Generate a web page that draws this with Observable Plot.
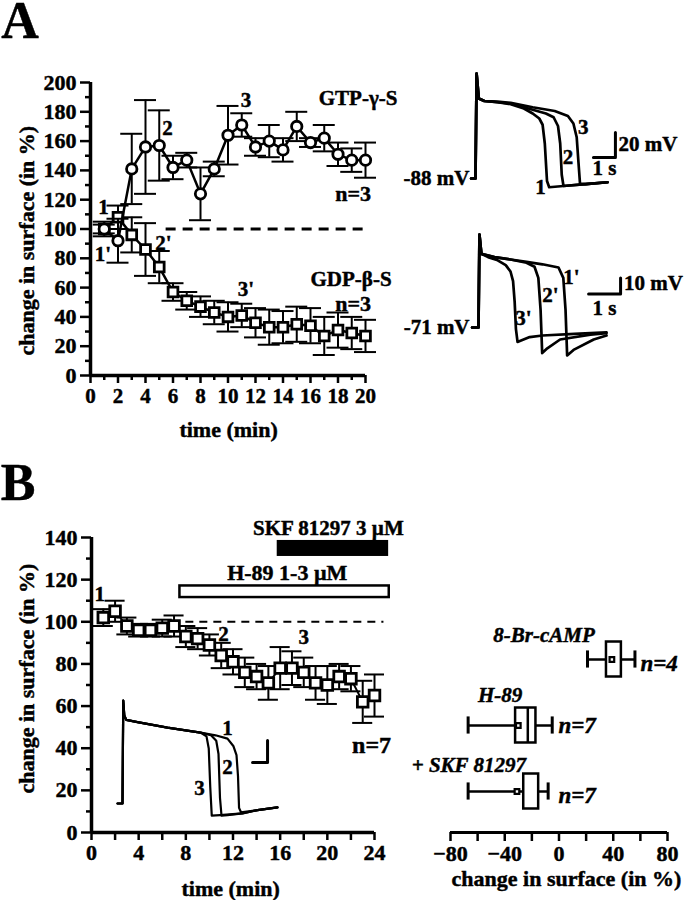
<!DOCTYPE html>
<html><head><meta charset="utf-8">
<script src="https://cdn.jsdelivr.net/npm/d3@7"></script>
<script src="https://cdn.jsdelivr.net/npm/@observablehq/plot@0.6"></script>
<style>
body{margin:0;background:#fff;}
#fig{position:relative;width:685px;height:900px;overflow:hidden;background:#fff;}
#fig svg{position:absolute;left:0;top:0;}
#fig svg text{stroke:#000;stroke-width:0.45px;}
</style></head><body><div id="fig"></div>
<script>
// ---------- Panel A: time course (min) ----------
const minutesA = [1,2,3,4,5,6,7,8,9,10,11,12,13,14,15,16,17,18,19,20];
const gtpMean = [100,92,141,156,157,142,147,124,141,164,171,156,160,154,170,159,162,151,147,147];
const gtpSem  = [5,15,24,32,24,8,5,18,5,20,8,6,11,8,10,3,9,8,8,12];
const gdpMean = [100,108,96,86,74,57,51,47,43,40,41,36,33,33,35,34,27,31,29,27];
const gdpSem  = [3,8,12,18,11,6,6,7,8,10,8,10,12,11,12,12,13,12,11,11];
const ticksAX = [0,2,4,6,8,10,12,14,16,18,20];
const ticksAY = [0,20,40,60,80,100,120,140,160,180,200];

// action potentials, [time (s), membrane potential (mV)]
const apGTP1 = [[-0.2,-88],[0,-88],[0.05,-4],[0.15,-24],[0.4,-26],[1,-27],[1.6,-28.5],[2.2,-32],[2.6,-36],[2.9,-40],[3.05,-45],[3.15,-60],[3.25,-90],[3.35,-95],[4,-94],[5,-92.5],[6,-91]];
const apGTP2 = [[-0.2,-88],[0,-88],[0.05,-4],[0.15,-24],[0.4,-26],[1,-27],[1.6,-28],[2.6,-33],[3.2,-36],[3.55,-39],[3.75,-46],[3.85,-60],[3.92,-85],[4,-94],[5,-92.5],[6,-91]];
const apGTP3 = [[-0.2,-88],[0,-88],[0.05,-4],[0.15,-24],[0.4,-26],[1,-26.5],[1.6,-27.5],[2.6,-31],[3.6,-34],[4.2,-38],[4.45,-44],[4.6,-55],[4.68,-75],[4.75,-92],[5,-92.5],[6,-91]];
const apGDP3 = [[-0.2,-71],[0,-71],[0.03,-13],[0.09,-25],[0.3,-27],[0.6,-29],[0.85,-32],[1.0,-36],[1.08,-42],[1.13,-55],[1.17,-72],[1.22,-80],[1.35,-79],[1.6,-77],[2,-76],[3,-75],[4,-74]];
const apGDP2 = [[-0.2,-71],[0,-71],[0.03,-13],[0.09,-25],[0.5,-27],[1,-28.5],[1.5,-30.5],[1.75,-33],[1.87,-40],[1.94,-60],[1.99,-87],[2.15,-84],[2.55,-78.5],[3.5,-75.5],[4,-74.5]];
const apGDP1 = [[-0.2,-71],[0,-71],[0.03,-13],[0.09,-25],[0.5,-27],[1,-28.5],[1.5,-30],[2,-31.5],[2.5,-33.5],[2.65,-40],[2.72,-60],[2.77,-88.5],[2.97,-85],[3.6,-78.5],[4,-76]];
const restGTP = -88, restGDP = -71;

// ---------- Panel B ----------
const minutesB = [1,2,3,4,5,6,7,8,9,10,11,12,13,14,15,16,17,18,19,20,21,22,23,24];
const h89Mean = [102,105,98,96,96,97,98,93,92,89,84,81,76,74,71,78,78,76,71,70,74,73,62,65];
const h89Sem  = [4,5,4,3,3,4,5,5,5,5,6,6,7,6,8,10,8,7,8,9,6,6,10,10];
const ticksBX = [0,4,8,12,16,20,24];
const ticksBY = [0,20,40,60,80,100,120,140];
const h89Period = [7.5, 25.25];
const skfPeriod = [15.75, 25.2];
const apH1 = [[-0.33,-85],[0,-85],[0.05,8.6],[0.12,-5],[0.25,-9],[1,-11],[3,-16],[5.2,-20.5],[6.2,-23],[7,-26],[7.4,-33],[7.6,-41],[7.7,-60],[7.77,-89],[7.9,-93],[9,-91],[10.33,-88.5]];
const apH2 = [[-0.33,-85],[0,-85],[0.05,8.6],[0.12,-5],[0.25,-9],[1,-11],[3,-16],[5.2,-20.5],[5.9,-23],[6.25,-28],[6.4,-40],[6.5,-80],[6.6,-96],[7,-95.5],[8,-94],[9,-91],[10.33,-88.5]];
const apH3 = [[-0.33,-85],[0,-85],[0.05,8.6],[0.12,-5],[0.25,-9],[1,-11],[3,-16],[5.2,-20.5],[5.6,-24],[5.75,-35],[5.85,-70],[5.95,-96],[6.5,-95.5],[8,-94],[9,-91],[10.33,-88.5]];

// box plot summary (change in surface, %)
const boxGroups = ["8-Br-cAMP","H-89","+ SKF 81297"];
const boxN      = [4,7,7];
const boxMin    = [21,-67,-67];
const boxQ1     = [35,-32,-26];
const boxMedian = [null,-23,null];
const boxQ3     = [46,-17,-15];
const boxMax    = [56,-5,-8];
const boxMean   = [39,-30,-31];
const ticksBoxMajor = [-80,-40,0,40,80];
const ticksBoxMinor = [-60,-20,20,60];

// ---------- drawing ----------
const W = 685, H = 900;
const FONT = "'Liberation Serif','Times New Roman',serif";
const frame = (l,r,t,b) => ({width:W,height:H,marginLeft:l,marginRight:r,marginTop:t,marginBottom:b,
  style:{fontFamily:FONT,fontSize:"22px",fontWeight:"bold",background:"transparent",color:"#000",overflow:"visible",maxWidth:"none"}});
const fig = document.getElementById("fig");
const add = p => { fig.appendChild(p); };
const T = d => d;

function errMarks(rows, cap, sw){
  return [
    Plot.ruleX(rows,{x:"t",y1:d=>d.v-d.e,y2:d=>d.v+d.e,strokeWidth:sw}),
    Plot.ruleY(rows,{y:d=>d.v+d.e,x1:d=>d.t-cap,x2:d=>d.t+cap,strokeWidth:sw}),
    Plot.ruleY(rows,{y:d=>d.v-d.e,x1:d=>d.t-cap,x2:d=>d.t+cap,strokeWidth:sw})
  ];
}

// Panel A chart
const rowsGTP = minutesA.map((t,i)=>({t, v:gtpMean[i], e:gtpSem[i]}));
const rowsGDP = minutesA.map((t,i)=>({t, v:gdpMean[i], e:gdpSem[i]}));
add(Plot.plot({...frame(90,320,82,525),
  x:{domain:[0,20],label:null}, y:{domain:[0,200],label:null},
  marks:[
    Plot.text(["A"],{x:-6.5,y:241.5,text:T,textAnchor:"start",fontSize:52}),
    Plot.ruleY([100],{x1:5.5,x2:20,strokeDasharray:"10,7",strokeWidth:3}),
    ...errMarks(rowsGDP,0.8,2),
    Plot.line(rowsGDP,{x:"t",y:"v",strokeWidth:2.5}),
    Plot.dot(rowsGDP,{x:"t",y:"v",symbol:"square",r:5.5,fill:"white",stroke:"black",strokeWidth:2.8}),
    ...errMarks(rowsGTP,0.8,2),
    Plot.line(rowsGTP,{x:"t",y:"v",strokeWidth:2.5}),
    Plot.dot(rowsGTP,{x:"t",y:"v",r:5.2,fill:"white",stroke:"black",strokeWidth:2.8}),
    Plot.text(["GTP-γ-S"],{x:16.6,y:189,text:T,textAnchor:"start",fontSize:21}),
    Plot.text(["n=3"],{x:17.8,y:124,text:T,textAnchor:"start"}),
    Plot.text(["GDP-β-S"],{x:16,y:66,text:T,textAnchor:"start",fontSize:21}),
    Plot.text(["n=3"],{x:17.8,y:49,text:T,textAnchor:"start"}),
    Plot.text(["1"],{x:0.95,y:115,text:T,fontSize:21}),
    Plot.text(["2"],{x:5.6,y:169,text:T,fontSize:21}),
    Plot.text(["3"],{x:11.3,y:188,text:T,fontSize:21}),
    Plot.text(["1'"],{x:0.9,y:83,text:T,fontSize:21}),
    Plot.text(["2'"],{x:5.3,y:90,text:T,fontSize:21}),
    Plot.text(["3'"],{x:11.3,y:59,text:T,fontSize:21}),
    Plot.axisY({ticks:ticksAY,tickSize:10,tickPadding:4,strokeWidth:2.5,label:null}),
    Plot.axisY({ticks:ticksAY.slice(1).map(v=>v-10),tickSize:5,tickFormat:()=>"",strokeWidth:2.5,label:null}),
    Plot.axisX({ticks:ticksAX,tickSize:8,tickPadding:5,strokeWidth:2.5,label:null,fontSize:21}),
    Plot.axisX({ticks:ticksAX.slice(1).map(v=>v-1),tickSize:5,tickFormat:()=>"",strokeWidth:2.5,label:null}),
    Plot.ruleX([0],{y1:0,y2:200,strokeWidth:3.5}),
    Plot.ruleY([0],{x1:0,x2:20,strokeWidth:3.5}),
    Plot.text(["change in surface (in %)"],{x:-4.65,y:92,rotate:-90,text:T}),
    Plot.text(["time (min)"],{x:10.04,y:-37.5,text:T})
  ]}));

// Panel A traces (GTP-γ-S)
add(Plot.plot({...frame(475,78,68,707),
  x:{domain:[0,6],axis:null}, y:{domain:[-100,0],axis:null},
  marks:[
    Plot.line(apGTP1,{strokeWidth:2.7}),
    Plot.line(apGTP2,{strokeWidth:2.7}),
    Plot.line(apGTP3,{strokeWidth:2.7}),
    Plot.line([[5.36,-71.2],[6.36,-71.2],[6.36,-51.2]],{strokeWidth:3}),
    Plot.text(["20 mV"],{x:6.5,y:-61,text:T,textAnchor:"start",fontSize:21}),
    Plot.text(["1 s"],{x:5.86,y:-80,text:T,fontSize:21}),
    Plot.text([restGTP+" mV"],{x:-0.28,y:restGTP,text:T,textAnchor:"end",fontSize:21}),
    Plot.text(["1"],{x:2.95,y:-95,text:T,fontSize:21}),
    Plot.text(["2"],{x:4.2,y:-71,text:T,fontSize:21}),
    Plot.text(["3"],{x:4.9,y:-47,text:T,fontSize:21})
  ]}));

// Panel A traces (GDP-β-S)
add(Plot.plot({...frame(478,79,229.4,542.6),
  x:{domain:[0,4],axis:null}, y:{domain:[-90,-10],axis:null},
  marks:[
    Plot.line(apGDP1,{strokeWidth:2.7}),
    Plot.line(apGDP2,{strokeWidth:2.7}),
    Plot.line(apGDP3,{strokeWidth:2.7}),
    Plot.line([[3.44,-50],[4.44,-50],[4.44,-40]],{strokeWidth:3}),
    Plot.text(["10 mV"],{x:4.55,y:-43.5,text:T,textAnchor:"start",fontSize:21}),
    Plot.text(["1 s"],{x:3.94,y:-59,text:T,fontSize:21}),
    Plot.text([restGDP+" mV"],{x:-0.28,y:restGDP,text:T,textAnchor:"end",fontSize:21}),
    Plot.text(["1'"],{x:2.9,y:-39.7,text:T,fontSize:21}),
    Plot.text(["2'"],{x:2.25,y:-51,text:T,fontSize:21}),
    Plot.text(["3'"],{x:1.4,y:-65,text:T,fontSize:21})
  ]}));

// Panel B chart
const rowsB = minutesB.map((t,i)=>({t, v:h89Mean[i], e:h89Sem[i]}));
add(Plot.plot({...frame(91,311,537,68),
  x:{domain:[0,24],label:null}, y:{domain:[0,140],label:null},
  marks:[
    Plot.text(["B"],{x:-7.7,y:165.6,text:T,textAnchor:"start",fontSize:52}),
    Plot.rect([skfPeriod],{x1:d=>d[0],x2:d=>d[1],y1:131,y2:138.6,fill:"black"}),
    Plot.rect([h89Period],{x1:d=>d[0],x2:d=>d[1],y1:111.5,y2:117,fill:"white",stroke:"black",strokeWidth:2.5}),
    Plot.text(["SKF 81297 3 µM"],{x:13.7,y:144.3,text:T,textAnchor:"start",fontSize:21}),
    Plot.text(["H-89 1-3 µM"],{x:16.6,y:123,text:T}),
    Plot.ruleY([100],{x1:8,x2:24.8,strokeDasharray:"8,6",strokeWidth:2}),
    ...errMarks(rowsB,0.85,2),
    Plot.line(rowsB,{x:"t",y:"v",strokeWidth:2}),
    Plot.dot(rowsB,{x:"t",y:"v",symbol:"square",r:6,fill:"white",stroke:"black",strokeWidth:2.8}),
    Plot.text(["1"],{x:0.7,y:113,text:T,fontSize:21}),
    Plot.text(["2"],{x:11.2,y:94,text:T,fontSize:21}),
    Plot.text(["3"],{x:18,y:92.5,text:T,fontSize:21}),
    Plot.text(["n=7"],{x:22.1,y:41.3,text:T,textAnchor:"start",fontSize:24}),
    Plot.axisY({ticks:ticksBY,tickSize:10,tickPadding:4,strokeWidth:2.5,label:null}),
    Plot.axisY({ticks:ticksBY.slice(1).map(v=>v-10),tickSize:5,tickFormat:()=>"",strokeWidth:2.5,label:null}),
    Plot.axisX({ticks:ticksBX,tickSize:8,tickPadding:4,strokeWidth:2.5,label:null}),
    Plot.axisX({ticks:ticksBX.slice(1).map(v=>v-2),tickSize:8,tickFormat:()=>"",strokeWidth:2.5,label:null}),
    Plot.ruleX([0],{y1:0,y2:140,strokeWidth:3.5}),
    Plot.ruleY([0],{x1:0,x2:24,strokeWidth:3.5}),
    Plot.text(["change in surface (in %)"],{x:-5.51,y:73,rotate:-90,text:T}),
    Plot.text(["time (min)"],{x:11.8,y:-26.6,text:T})
  ]}));

// Panel B inset trace
add(Plot.plot({...frame(122,413,698.5,80.5),
  x:{domain:[0,10],axis:null}, y:{domain:[-100,10],axis:null},
  marks:[
    Plot.line(apH1,{strokeWidth:2.2}),
    Plot.line(apH2,{strokeWidth:2.2}),
    Plot.line(apH3,{strokeWidth:2.2}),
    Plot.line([[8.67,-47.7],[9.67,-47.7],[9.67,-27.7]],{strokeWidth:3}),
    Plot.text(["1"],{x:7,y:-17,text:T,fontSize:21}),
    Plot.text(["2"],{x:7,y:-52,text:T,fontSize:21}),
    Plot.text(["3"],{x:5.13,y:-71.4,text:T,fontSize:21})
  ]}));

// Panel B box plot
const boxRows = boxGroups.map((g,i)=>({g,i,n:boxN[i],lo:boxMin[i],q1:boxQ1[i],med:boxMedian[i],q3:boxQ3[i],hi:boxMax[i],mean:boxMean[i]}));
const labelDy = [-24,-30,-26], nDy = [4,0,4], labelX = [-11,-43.4,-66.5], nX = [60,-0.4,-0.4];
add(Plot.plot({...frame(450,18,600,68),
  x:{domain:[-80,80],label:null}, y:{domain:[0,2],range:[659,791],axis:null},
  marks:[
    Plot.ruleY(boxRows,{y:"i",x1:"lo",x2:"hi",strokeWidth:2.5}),
    Plot.ruleX(boxRows,{x:"lo",y1:d=>d.i-0.13,y2:d=>d.i+0.13,strokeWidth:3}),
    Plot.ruleX(boxRows,{x:"hi",y1:d=>d.i-0.13,y2:d=>d.i+0.13,strokeWidth:3}),
    Plot.rect(boxRows,{x1:"q1",x2:"q3",y1:d=>d.i-0.265,y2:d=>d.i+0.265,fill:"white",stroke:"black",strokeWidth:2.5}),
    Plot.ruleX(boxRows.filter(d=>d.med!=null),{x:"med",y1:d=>d.i-0.265,y2:d=>d.i+0.265,strokeWidth:2.5}),
    Plot.dot(boxRows,{x:"mean",y:"i",symbol:"square",r:2.6,fill:"white",stroke:"black",strokeWidth:2.2}),
    ...boxRows.map((d,i)=>Plot.text([d],{x:labelX[i],y:"i",dy:labelDy[i],text:"g",fontStyle:"italic",fontSize:21})),
    ...boxRows.map((d,i)=>Plot.text([d],{x:nX[i],y:"i",dy:nDy[i],text:e=>"n="+e.n,fontStyle:"italic",textAnchor:"start",fontSize:23})),
    Plot.axisX({ticks:ticksBoxMajor,tickSize:9,tickPadding:4,strokeWidth:2.5,label:null}),
    Plot.axisX({ticks:ticksBoxMinor,tickSize:9,tickFormat:()=>"",strokeWidth:2.5,label:null}),
    Plot.ruleY([(832-659)/66],{x1:-80,x2:80,strokeWidth:3}),
    Plot.text(["change in surface (in %)"],{x:5.5,y:(878-659)/66,text:T})
  ]}));
</script></body></html>
